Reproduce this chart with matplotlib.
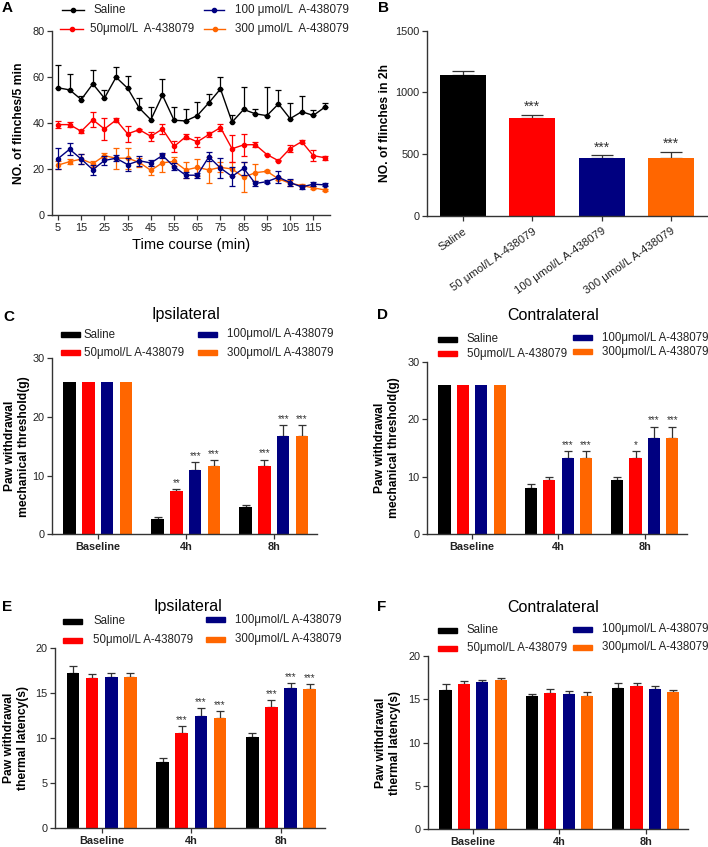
import matplotlib
matplotlib.use('Agg')
import matplotlib.pyplot as plt
from matplotlib.patches import Rectangle
from matplotlib.lines import Line2D
import numpy as np

plt.rcParams['font.family'] = ['Liberation Sans', 'DejaVu Sans']

# ---------------- data ----------------
series_names = ['Saline', '50μmol/L A-438079', '100μmol/L A-438079', '300μmol/L A-438079']
a_series_names = ['Saline', '50μmol/L  A-438079', '100 μmol/L  A-438079', '300 μmol/L  A-438079']
b_labels = ['Saline', '50 μmol/L A-438079', '100 μmol/L A-438079', '300 μmol/L A-438079']
colors = ['#000000', '#FF0000', '#000080', '#FF6600']

time_min = [5, 10, 15, 20, 25, 30, 35, 40, 45, 50, 55, 60, 65, 70, 75, 80, 85, 90, 95, 100, 105, 110, 115, 120]
time_ticks = [5, 15, 25, 35, 45, 55, 65, 75, 85, 95, 105, 115]
a_saline = [55.3, 54.4, 50.2, 57.0, 50.8, 59.9, 55.1, 46.5, 41.4, 52.1, 41.2, 40.9, 43.2, 48.8, 54.8, 40.4, 45.9, 44.0, 43.2, 48.3, 41.9, 44.9, 43.3, 46.9]
a_saline_err = [10.0, 7.0, 1.5, 6.0, 3.7, 4.4, 5.3, 4.3, 5.5, 7.0, 5.7, 5.3, 5.9, 3.9, 5.3, 3.2, 9.8, 2.2, 12.5, 5.9, 6.9, 6.9, 2.5, 1.7]
a_50 = [39.3, 39.3, 36.4, 41.4, 37.4, 41.3, 35.3, 37.1, 34.2, 37.4, 29.8, 34.0, 31.8, 35.0, 38.0, 28.8, 30.5, 30.6, 26.3, 23.6, 28.9, 31.9, 25.8, 24.9]
a_50_err = [1.4, 1.0, 0.6, 3.3, 4.8, 1.0, 3.4, 0.5, 1.9, 2.2, 2.2, 1.0, 2.3, 1.0, 1.4, 5.9, 4.8, 1.0, 0.4, 0.3, 1.5, 0.7, 2.4, 0.8]
a_100 = [24.5, 28.6, 24.3, 19.7, 23.7, 24.7, 21.9, 23.6, 22.6, 25.9, 21.0, 17.3, 17.3, 25.3, 20.4, 16.8, 20.3, 13.7, 14.5, 16.4, 14.1, 12.2, 13.4, 13.1]
a_100_err = [4.7, 2.6, 2.2, 2.2, 2.0, 1.3, 2.7, 2.2, 1.4, 1.0, 1.6, 1.3, 1.0, 1.9, 4.5, 4.2, 2.9, 0.9, 0.7, 2.7, 1.6, 0.9, 0.9, 0.7]
a_300 = [21.7, 23.2, 24.3, 22.3, 25.8, 24.7, 24.7, 22.9, 19.4, 22.7, 23.3, 19.6, 20.7, 19.6, 20.7, 20.0, 16.4, 18.4, 19.0, 15.7, 13.8, 12.8, 11.8, 10.9]
a_300_err = [1.9, 1.2, 2.2, 1.3, 1.2, 4.5, 4.6, 2.0, 2.0, 4.0, 2.0, 3.6, 3.6, 5.5, 2.2, 2.9, 6.5, 3.6, 0.5, 0.7, 1.2, 0.6, 0.6, 0.4]

b_means = [1143, 792, 468, 465]
b_err = [27, 27, 24, 54]
b_sig = ['', '***', '***', '***']

time_groups = ['Baseline', '4h', '8h']
c_means = [[26, 2.6, 4.6], [26, 7.3, 11.6], [26, 11.0, 16.8], [26, 11.6, 16.8]]
c_err = [[0, 0.4, 0.45], [0, 0.4, 1.1], [0, 1.3, 1.8], [0, 1.0, 1.8]]
c_sig = [['', '', ''], ['', '**', '***'], ['', '***', '***'], ['', '***', '***']]

d_means = [[26, 7.95, 9.34], [26, 9.34, 13.3], [26, 13.3, 16.8], [26, 13.3, 16.8]]
d_err = [[0, 0.8, 0.5], [0, 0.5, 1.1], [0, 1.1, 1.9], [0, 1.1, 1.9]]
d_sig = [['', '', ''], ['', '', '*'], ['', '***', '***'], ['', '***', '***']]

e_means = [[17.3, 7.38, 10.13], [16.66, 10.6, 13.5], [16.85, 12.47, 15.55], [16.85, 12.2, 15.5]]
e_err = [[0.77, 0.45, 0.47], [0.44, 0.7, 0.7], [0.37, 0.83, 0.55], [0.37, 0.8, 0.5]]
e_sig = [['', '', ''], ['', '***', '***'], ['', '***', '***'], ['', '***', '***']]

f_means = [[16.07, 15.38, 16.34], [16.76, 15.76, 16.57], [16.96, 15.57, 16.18], [17.19, 15.41, 15.8]]
f_err = [[0.65, 0.22, 0.5], [0.31, 0.39, 0.31], [0.23, 0.33, 0.31], [0.27, 0.39, 0.3]]
f_sig = [['', '', ''], ['', '', ''], ['', '', ''], ['', '', '']]

# ---------------- figure ----------------
W, H = 708, 847
fig = plt.figure(figsize=(W / 100, H / 100), dpi=100)


def fx(x):
    return x / W


def fy(y):
    return 1 - y / H


def ax_px(l, t, r, b):
    return fig.add_axes([l / W, 1 - b / H, (r - l) / W, (b - t) / H])


TICK_FS = 7.8
TXT = '#222222'


def style(ax):
    for s in ['top', 'right']:
        ax.spines[s].set_visible(False)
    for s in ['left', 'bottom']:
        ax.spines[s].set_linewidth(1.0)
        ax.spines[s].set_color('#333333')
    ax.tick_params(direction='out', length=3.5, width=0.9, colors='#333333',
                   labelsize=TICK_FS, labelcolor=TXT, pad=2)


def panel_letter(x, y, s):
    fig.text(fx(x), fy(y), s, fontsize=11, fontweight='bold', ha='left', va='center')


# ---------- Panel A ----------
axA = ax_px(52, 31, 330, 215)
style(axA)
a_vals = [a_saline, a_50, a_100, a_300]
a_errs = [a_saline_err, a_50_err, a_100_err, a_300_err]
for i in range(4):
    if i == 0:
        yerr = [np.zeros(len(a_errs[i])), a_errs[i]]
    else:
        yerr = a_errs[i]
    axA.errorbar(time_min, a_vals[i], yerr=yerr, color=colors[i], marker='o',
                 markersize=3.0, linewidth=1.0, elinewidth=0.9, capsize=2.2,
                 capthick=0.9, zorder=3 + (3 - i))
axA.set_xlim(2.4, 122.2)
axA.set_ylim(0, 80)
axA.set_yticks([0, 20, 40, 60, 80])
axA.set_xticks(time_ticks)
axA.set_xlabel('Time course (min)', fontsize=10.5, labelpad=4)
fig.text(fx(19), fy(123), 'NO. of flinches/5 min', rotation=90, fontsize=8.7,
         fontweight='bold', ha='center', va='center')
panel_letter(2, 8, 'A')

# legend A (manual)
a_leg = [(62, 84, 93, 10), (60, 83, 90, 29), (204, 224, 235, 10), (204, 225, 235, 29)]
for i, (x0, x1, xt, y) in enumerate(a_leg):
    fig.add_artist(Line2D([fx(x0), fx(x1)], [fy(y), fy(y)], color=colors[i], lw=1.0,
                          transform=fig.transFigure))
    fig.add_artist(Line2D([fx((x0 + x1) / 2)], [fy(y)], color=colors[i], marker='o',
                          markersize=3.0, transform=fig.transFigure))
    fig.text(fx(xt), fy(y), a_series_names[i], fontsize=8.4, ha='left', va='center', color=TXT)

# ---------- Panel B ----------
axB = ax_px(427, 30.7, 707, 215.7)
style(axB)
xb = np.arange(4)
axB.bar(xb, b_means, width=0.66, color=colors, zorder=2)
axB.errorbar(xb, b_means, yerr=[np.zeros(4), b_err], fmt='none', ecolor='#333333',
             elinewidth=0.9, capsize=8, capthick=0.9, zorder=1)
for x, m, e, s in zip(xb, b_means, b_err, b_sig):
    if s:
        axB.annotate(s, (x, m + e), xytext=(0, 0.5), textcoords='offset points',
                     ha='center', va='bottom', fontsize=10, color='#333333')
axB.set_xlim(-0.52, 3.52)
axB.set_ylim(0, 1500)
axB.set_yticks([0, 500, 1000, 1500])
axB.set_xticks(xb)
axB.set_xticklabels(b_labels, rotation=35, ha='right', rotation_mode='anchor', fontsize=8.2)
axB.tick_params(axis='x', pad=4)
fig.text(fx(385), fy(123), 'NO. of flinches in 2h', rotation=90, fontsize=8.7,
         fontweight='bold', ha='center', va='center')
panel_letter(378, 8, 'B')

# ---------- grouped bar panels ----------
offsets = (np.arange(4) - 1.5) * 0.213
BW = 0.142


def bar_panel(box, means, errs, sigs, ylim, yticks, ylabel, ylab_x, title, title_xy,
              letter, letter_xy, leg):
    ax = ax_px(*box)
    style(ax)
    xg = np.arange(3)
    for i in range(4):
        x = xg + offsets[i]
        ax.bar(x, means[i], width=BW, color=colors[i], zorder=2)
        for xx, m, e, s in zip(x, means[i], errs[i], sigs[i]):
            if e > 0:
                ax.errorbar([xx], [m], yerr=[[0], [e]], fmt='none', ecolor='#333333',
                            elinewidth=0.9, capsize=2.6, capthick=0.9, zorder=1)
            if s:
                ax.annotate(s, (xx, m + e), xytext=(0, 1.0), textcoords='offset points',
                            ha='center', va='bottom', fontsize=7, color='#333333')
    ax.set_xlim(-0.52, 2.49)
    ax.set_ylim(*ylim)
    ax.set_yticks(yticks)
    ax.set_xticks(xg)
    ax.set_xticklabels(time_groups, fontweight='bold', fontsize=7.8)
    t, b = box[1], box[3]
    fig.text(fx(ylab_x), fy((t + b) / 2), ylabel, rotation=90, fontsize=8.7,
             fontweight='bold', ha='center', va='center', linespacing=1.15)
    fig.text(fx(title_xy[0]), fy(title_xy[1]), title, fontsize=11.5, ha='center', va='center')
    panel_letter(letter_xy[0], letter_xy[1], letter)
    # legend (manual)
    for i, (x0, y, xt) in enumerate(leg):
        fig.add_artist(Rectangle((fx(x0), fy(y + 2.5)), 19 / W, 5 / H, color=colors[i],
                                 transform=fig.transFigure))
        fig.text(fx(xt), fy(y), series_names[i], fontsize=8.3, ha='left', va='center', color=TXT)
    return ax


mech_label = 'Paw withdrawal\nmechanical threshold(g)'
therm_label = 'Paw withdrawal\nthermal latency(s)'

bar_panel((52, 358.3, 317, 534.3), c_means, c_err, c_sig, (0, 30), [0, 10, 20, 30],
          mech_label, 17, 'Ipsilateral', (186, 315), 'C', (3, 317),
          [(61, 335, 84), (61, 353, 84), (198, 334, 227), (198, 353, 227)])
bar_panel((427.3, 361.7, 687, 534), d_means, d_err, d_sig, (0, 30), [0, 10, 20, 30],
          mech_label, 387, 'Contralateral', (553, 315), 'D', (377, 315),
          [(438, 339, 467), (438, 354, 467), (573, 338, 602), (573, 352, 602)])
bar_panel((55, 648.3, 325, 828), e_means, e_err, e_sig, (0, 20), [0, 5, 10, 15, 20],
          therm_label, 16, 'Ipsilateral', (188, 607), 'E', (2, 607),
          [(63, 621, 93), (63, 640, 93), (206, 620, 235), (206, 639, 235)])
bar_panel((428.3, 656, 688, 829), f_means, f_err, f_sig, (0, 20), [0, 5, 10, 15, 20],
          therm_label, 388, 'Contralateral', (553, 607), 'F', (377, 607),
          [(438, 630, 467), (438, 648, 467), (573, 629, 602), (573, 647, 602)])

fig.savefig('out.png', dpi=100)
